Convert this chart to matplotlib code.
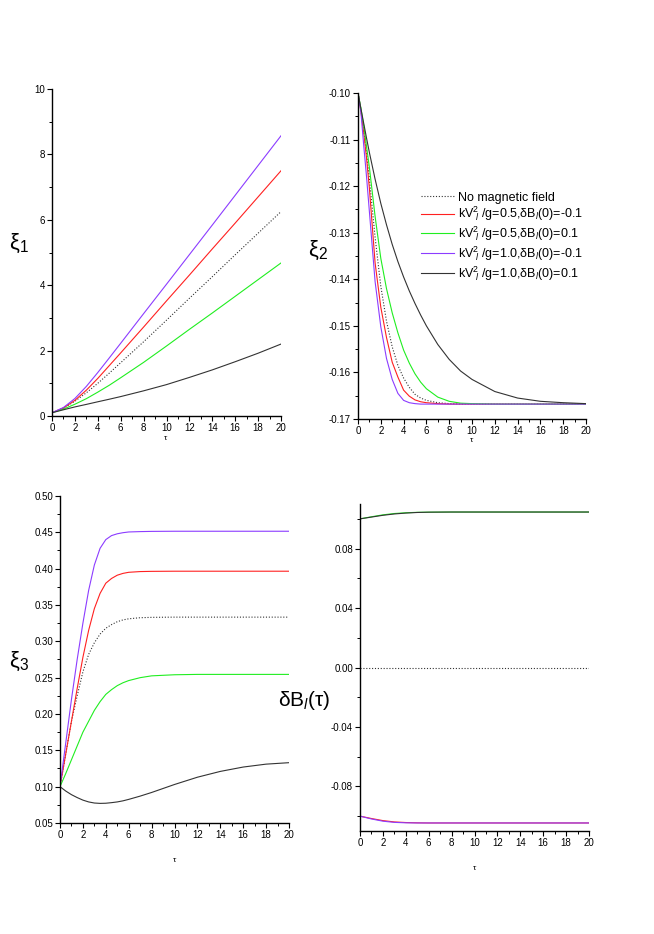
import numpy as np
import matplotlib
matplotlib.use("Agg")
import matplotlib.pyplot as plt
from matplotlib.ticker import MultipleLocator, FormatStrFormatter

plt.rcParams['font.family'] = ['Liberation Sans', 'DejaVu Sans']
plt.rcParams['mathtext.fontset'] = 'custom'
plt.rcParams['mathtext.rm'] = 'Liberation Sans'
plt.rcParams['mathtext.it'] = 'Liberation Sans:italic'
plt.rcParams['axes.unicode_minus'] = False

# ---------------- data ----------------
labels = ["No magnetic field",
          r"kV$^2_{\ l}$ /g=0.5,δB$_l$(0)=-0.1",
          r"kV$^2_{\ l}$ /g=0.5,δB$_l$(0)=0.1",
          r"kV$^2_{\ l}$ /g=1.0,δB$_l$(0)=-0.1",
          r"kV$^2_{\ l}$ /g=1.0,δB$_l$(0)=0.1"]
colors = ['#333333', '#ff2020', '#20ee20', '#8c3cff', '#333333']
styles = [(0, (1, 1.6)), '-', '-', '-', '-']

tau1 = [0, 1, 2, 3, 4, 5, 6, 8, 10, 12, 14, 16, 18, 20]
xi1_none = [0.1, 0.24, 0.45, 0.71, 1.0, 1.31, 1.63, 2.27, 2.93, 3.60, 4.26, 4.93, 5.59, 6.25]
xi1_a = [0.1, 0.245, 0.479, 0.79, 1.15, 1.54, 1.93, 2.72, 3.52, 4.31, 5.11, 5.90, 6.70, 7.50]
xi1_b = [0.1, 0.21, 0.36, 0.53, 0.73, 0.94, 1.17, 1.64, 2.14, 2.65, 3.15, 3.66, 4.17, 4.68]
xi1_c = [0.1, 0.26, 0.535, 0.905, 1.33, 1.775, 2.225, 3.13, 4.03, 4.935, 5.84, 6.75, 7.66, 8.57]
xi1_d = [0.1, 0.19, 0.278, 0.355, 0.435, 0.513, 0.594, 0.77, 0.96, 1.18, 1.41, 1.66, 1.92, 2.20]

tau2 = [0, 0.25, 0.5, 0.75, 1, 1.5, 2, 2.5, 3, 3.5, 4, 4.5, 5, 5.5, 6, 7, 8, 9, 10, 12, 14, 16, 18, 20]
xi2_none = [-0.1, -0.1035, -0.108, -0.113, -0.1185, -0.131, -0.1415, -0.149, -0.1545, -0.1585, -0.1612,
            -0.1632, -0.1647, -0.1655, -0.166, -0.1665, -0.1667, -0.1668, -0.1668, -0.1668, -0.1668,
            -0.1668, -0.1668, -0.1668]
xi2_a = [-0.1, -0.1038, -0.1085, -0.114, -0.1205, -0.1365, -0.146, -0.1525, -0.1578, -0.161, -0.1638,
         -0.1651, -0.1659, -0.1663, -0.1665, -0.1667, -0.1668, -0.1668, -0.1668, -0.1668, -0.1668,
         -0.1668, -0.1668, -0.1668]
xi2_b = [-0.1, -0.1032, -0.107, -0.1115, -0.116, -0.1265, -0.1355, -0.142, -0.1472, -0.1515, -0.1552,
         -0.158, -0.1603, -0.1621, -0.1635, -0.1653, -0.1662, -0.1666, -0.1667, -0.1668, -0.1668,
         -0.1668, -0.1668, -0.1668]
xi2_c = [-0.1, -0.104, -0.1112, -0.118, -0.1255, -0.1405, -0.1502, -0.157, -0.1615, -0.1645, -0.166,
         -0.1665, -0.1667, -0.1668, -0.1668, -0.1668, -0.1668, -0.1668, -0.1668, -0.1668, -0.1668,
         -0.1668, -0.1668, -0.1668]
xi2_d = [-0.1, -0.1033, -0.1065, -0.1097, -0.1128, -0.1185, -0.1237, -0.1283, -0.1325, -0.1362, -0.1395,
         -0.1425, -0.1452, -0.1477, -0.15, -0.154, -0.1572, -0.1597, -0.1615, -0.1641, -0.1655,
         -0.1662, -0.1665, -0.1667]

tau3 = [0, 0.5, 1, 1.5, 2, 2.5, 3, 3.5, 4, 4.5, 5, 5.5, 6, 7, 8, 10, 12, 14, 16, 18, 20]
xi3_none = [0.1, 0.145, 0.19, 0.225, 0.258, 0.282, 0.298, 0.31, 0.318, 0.323, 0.327, 0.3295, 0.331,
            0.3325, 0.333, 0.3333, 0.3333, 0.3333, 0.3333, 0.3333, 0.3333]
xi3_a = [0.1, 0.145, 0.19, 0.235, 0.278, 0.315, 0.345, 0.366, 0.38, 0.3865, 0.391, 0.3935, 0.395,
         0.396, 0.3963, 0.3965, 0.3965, 0.3965, 0.3965, 0.3965, 0.3965]
xi3_b = [0.1, 0.118, 0.137, 0.156, 0.175, 0.19, 0.205, 0.217, 0.227, 0.2335, 0.239, 0.243, 0.246,
         0.25, 0.2525, 0.254, 0.2545, 0.2545, 0.2545, 0.2545, 0.2545]
xi3_c = [0.1, 0.16, 0.22, 0.275, 0.325, 0.37, 0.405, 0.428, 0.44, 0.4455, 0.448, 0.4495, 0.4505,
         0.451, 0.4513, 0.4515, 0.4515, 0.4515, 0.4515, 0.4515, 0.4515]
xi3_d = [0.1, 0.094, 0.089, 0.085, 0.0815, 0.079, 0.0775, 0.077, 0.0772, 0.078, 0.079, 0.0805, 0.0825,
         0.087, 0.092, 0.103, 0.113, 0.121, 0.127, 0.131, 0.133]

tauB = [0, 1, 2, 3, 4, 5, 6, 8, 10, 14, 20]
dB_none = [0, 0, 0, 0, 0, 0, 0, 0, 0, 0, 0]
dB_a = [-0.1, -0.1016, -0.103, -0.1039, -0.1043, -0.1045, -0.1046, -0.1046, -0.1046, -0.1046, -0.1046]
dB_b = [0.1, 0.1014, 0.1027, 0.1036, 0.1041, 0.1044, 0.1045, 0.1046, 0.1046, 0.1046, 0.1046]
dB_c = [-0.1, -0.1019, -0.1034, -0.1042, -0.1045, -0.1046, -0.1046, -0.1046, -0.1046, -0.1046, -0.1046]
dB_d = [0.1, 0.1012, 0.1024, 0.1033, 0.1039, 0.1043, 0.1045, 0.1046, 0.1046, 0.1046, 0.1046]

# ---------------- figure ----------------
W, H = 654, 934
fig = plt.figure(figsize=(W / 100, H / 100), dpi=100)

def px_axes(x0, y0, x1, y1):
    return fig.add_axes([x0 / W, 1 - y1 / H, (x1 - x0) / W, (y1 - y0) / H])

def style(ax, ymaj, ymin, fmt):
    for s in ['top', 'right']:
        ax.spines[s].set_visible(False)
    for s in ['left', 'bottom']:
        ax.spines[s].set_linewidth(1.0)
    ax.set_xlim(0, 20)
    ax.xaxis.set_major_locator(MultipleLocator(2))
    ax.xaxis.set_minor_locator(MultipleLocator(1))
    ax.yaxis.set_major_locator(MultipleLocator(ymaj))
    ax.yaxis.set_minor_locator(MultipleLocator(ymin))
    ax.yaxis.set_major_formatter(FormatStrFormatter(fmt))
    ax.tick_params(which='major', direction='out', length=3.5, width=0.8, labelsize=7, pad=1.5)
    ax.tick_params(which='minor', direction='out', length=2, width=0.7)

def draw(ax, t, series, lw=0.8):
    for y, c, ls, lab in zip(series, colors, styles, labels):
        ax.plot(t, y, color=c, linestyle=ls, linewidth=lw, label=lab)

def ylab(x, y, s, size=16):
    fig.text(x / W, 1 - y / H, s, fontsize=size, ha='center', va='center')

def xlab(x, y):
    fig.text(x / W, 1 - y / H, 'τ', fontsize=6, ha='center', va='center')

# top-left
ax1 = px_axes(52, 89, 281, 416)
draw(ax1, tau1, [xi1_none, xi1_a, xi1_b, xi1_c, xi1_d])
ax1.set_ylim(0, 10)
style(ax1, 2, 1, '%d')
ylab(19, 243, r'ξ$_1$')
xlab(166, 438)

# top-right
ax2 = px_axes(358, 93, 586, 419)
draw(ax2, tau2, [xi2_none, xi2_a, xi2_b, xi2_c, xi2_d])
ax2.set_ylim(-0.17, -0.10)
style(ax2, 0.01, 0.005, '%.2f')
ylab(318, 250, r'ξ$_2$')
xlab(472, 441)
leg = ax2.legend(loc='upper left', bbox_to_anchor=(0.278, 0.697), frameon=False,
                 fontsize=9, handlelength=2.6, handletextpad=0.35, labelspacing=0.08,
                 borderpad=0, borderaxespad=0)

# bottom-left
ax3 = px_axes(60, 496, 289, 823)
draw(ax3, tau3, [xi3_none, xi3_a, xi3_b, xi3_c, xi3_d])
ax3.set_ylim(0.05, 0.50)
style(ax3, 0.05, 0.025, '%.2f')
ylab(19, 661, r'ξ$_3$')
xlab(175, 860)

# bottom-right
ax4 = px_axes(360, 504, 589, 831)
draw(ax4, tauB, [dB_none, dB_a, dB_b, dB_c, dB_d])
ax4.set_ylim(-0.11, 0.11)
style(ax4, 0.04, 0.02, '%.2f')
ylab(304, 700, r'δB$_l$(τ)', size=15)
xlab(475, 868)

fig.savefig('out.png', dpi=100, facecolor='white')
